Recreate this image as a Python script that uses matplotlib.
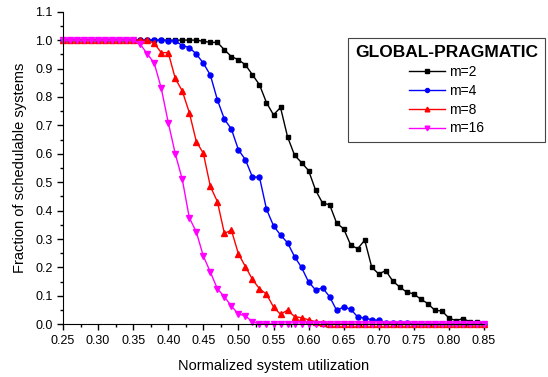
import numpy as np
import matplotlib
matplotlib.use("Agg")
import matplotlib.pyplot as plt
from matplotlib.ticker import MultipleLocator

plt.rcParams['font.family'] = ['Liberation Sans', 'DejaVu Sans']

# normalized utilization grid, 0.25 .. 0.85 in steps of 0.01
util = np.round(np.linspace(0.25, 0.85, 61), 2)

m2 = [1.0] * 20 + [
    0.996, 0.992, 0.992, 0.966, 0.942, 0.931, 0.913, 0.878, 0.843, 0.78,
    0.737, 0.763, 0.66, 0.595, 0.569, 0.541, 0.472, 0.426, 0.421, 0.356,
    0.336, 0.279, 0.266, 0.296, 0.201, 0.177, 0.189, 0.152, 0.131, 0.113,
    0.107, 0.088, 0.073, 0.049, 0.047, 0.022, 0.013, 0.02, 0.009, 0.009,
    0.002]
m4 = [1.0] * 15 + [
    0.997, 0.997, 0.981, 0.974, 0.951, 0.919, 0.877, 0.79, 0.722, 0.687,
    0.614, 0.579, 0.518, 0.518, 0.405, 0.347, 0.314, 0.287, 0.238, 0.2,
    0.149, 0.121, 0.128, 0.097, 0.049, 0.061, 0.053, 0.026, 0.022, 0.016,
    0.014, 0.005, 0.006, 0.003, 0.003, 0.002, 0.001] + [0.0] * 9
m8 = [1.0] * 13 + [
    0.989, 0.956, 0.956, 0.865, 0.821, 0.745, 0.643, 0.602, 0.485, 0.432,
    0.32, 0.331, 0.248, 0.203, 0.158, 0.125, 0.106, 0.061, 0.035, 0.05,
    0.027, 0.023, 0.016, 0.009, 0.006, 0.002, 0.002, 0.001, 0.001] + [0.0] * 19
m16 = [1.0] * 11 + [
    0.986, 0.952, 0.919, 0.831, 0.71, 0.6, 0.51, 0.375, 0.325, 0.24,
    0.184, 0.125, 0.097, 0.064, 0.036, 0.03, 0.008, 0.002, 0.002, 0.001] + [0.0] * 30

series = [("m=2", m2, "black", "s", 3.2),
          ("m=4", m4, "blue", "o", 3.6),
          ("m=8", m8, "red", "^", 4.2),
          ("m=16", m16, "magenta", "v", 4.2)]

fig = plt.figure(figsize=(5.48, 3.77), dpi=100)
ax = fig.add_axes([63/548, 1-324.3/377, (484-63)/548, (324.3-11.7)/377])

for label, vals, col, mk, ms in series:
    ax.plot(util, vals, color=col, marker=mk, markersize=ms, lw=1,
            label=label, clip_on=False)

ax.set_xlim(0.25, 0.85)
ax.set_ylim(0.0, 1.1)
ax.xaxis.set_major_locator(MultipleLocator(0.05))
ax.xaxis.set_minor_locator(MultipleLocator(0.025))
ax.yaxis.set_major_locator(MultipleLocator(0.1))
ax.yaxis.set_minor_locator(MultipleLocator(0.05))
ax.xaxis.set_major_formatter(plt.FormatStrFormatter('%.2f'))
ax.yaxis.set_major_formatter(plt.FormatStrFormatter('%.1f'))
ax.tick_params(which='major', direction='out', length=4, width=1, labelsize=9)
ax.tick_params(which='minor', direction='out', length=2.5, width=1)
for s in ['top', 'right']:
    ax.spines[s].set_visible(False)

ax.set_xlabel("Normalized system utilization", fontsize=10.5, labelpad=9)
ax.set_ylabel("Fraction of schedulable systems", fontsize=10.5, labelpad=6)

leg = ax.legend(title="GLOBAL-PRAGMATIC", loc='upper left',
                bbox_to_anchor=(348/548, 1-38/377), bbox_transform=fig.transFigure,
                borderaxespad=0, fontsize=10, title_fontproperties={'weight': 'bold', 'size': 12.5},
                frameon=True, fancybox=False, edgecolor='#444444', framealpha=1,
                handlelength=2.6, handletextpad=0.3, labelspacing=0.35, markerscale=0.8,
                borderpad=0.5)
leg.get_frame().set_linewidth(0.8)

fig.savefig("out.png", dpi=100)
plt.close(fig)
